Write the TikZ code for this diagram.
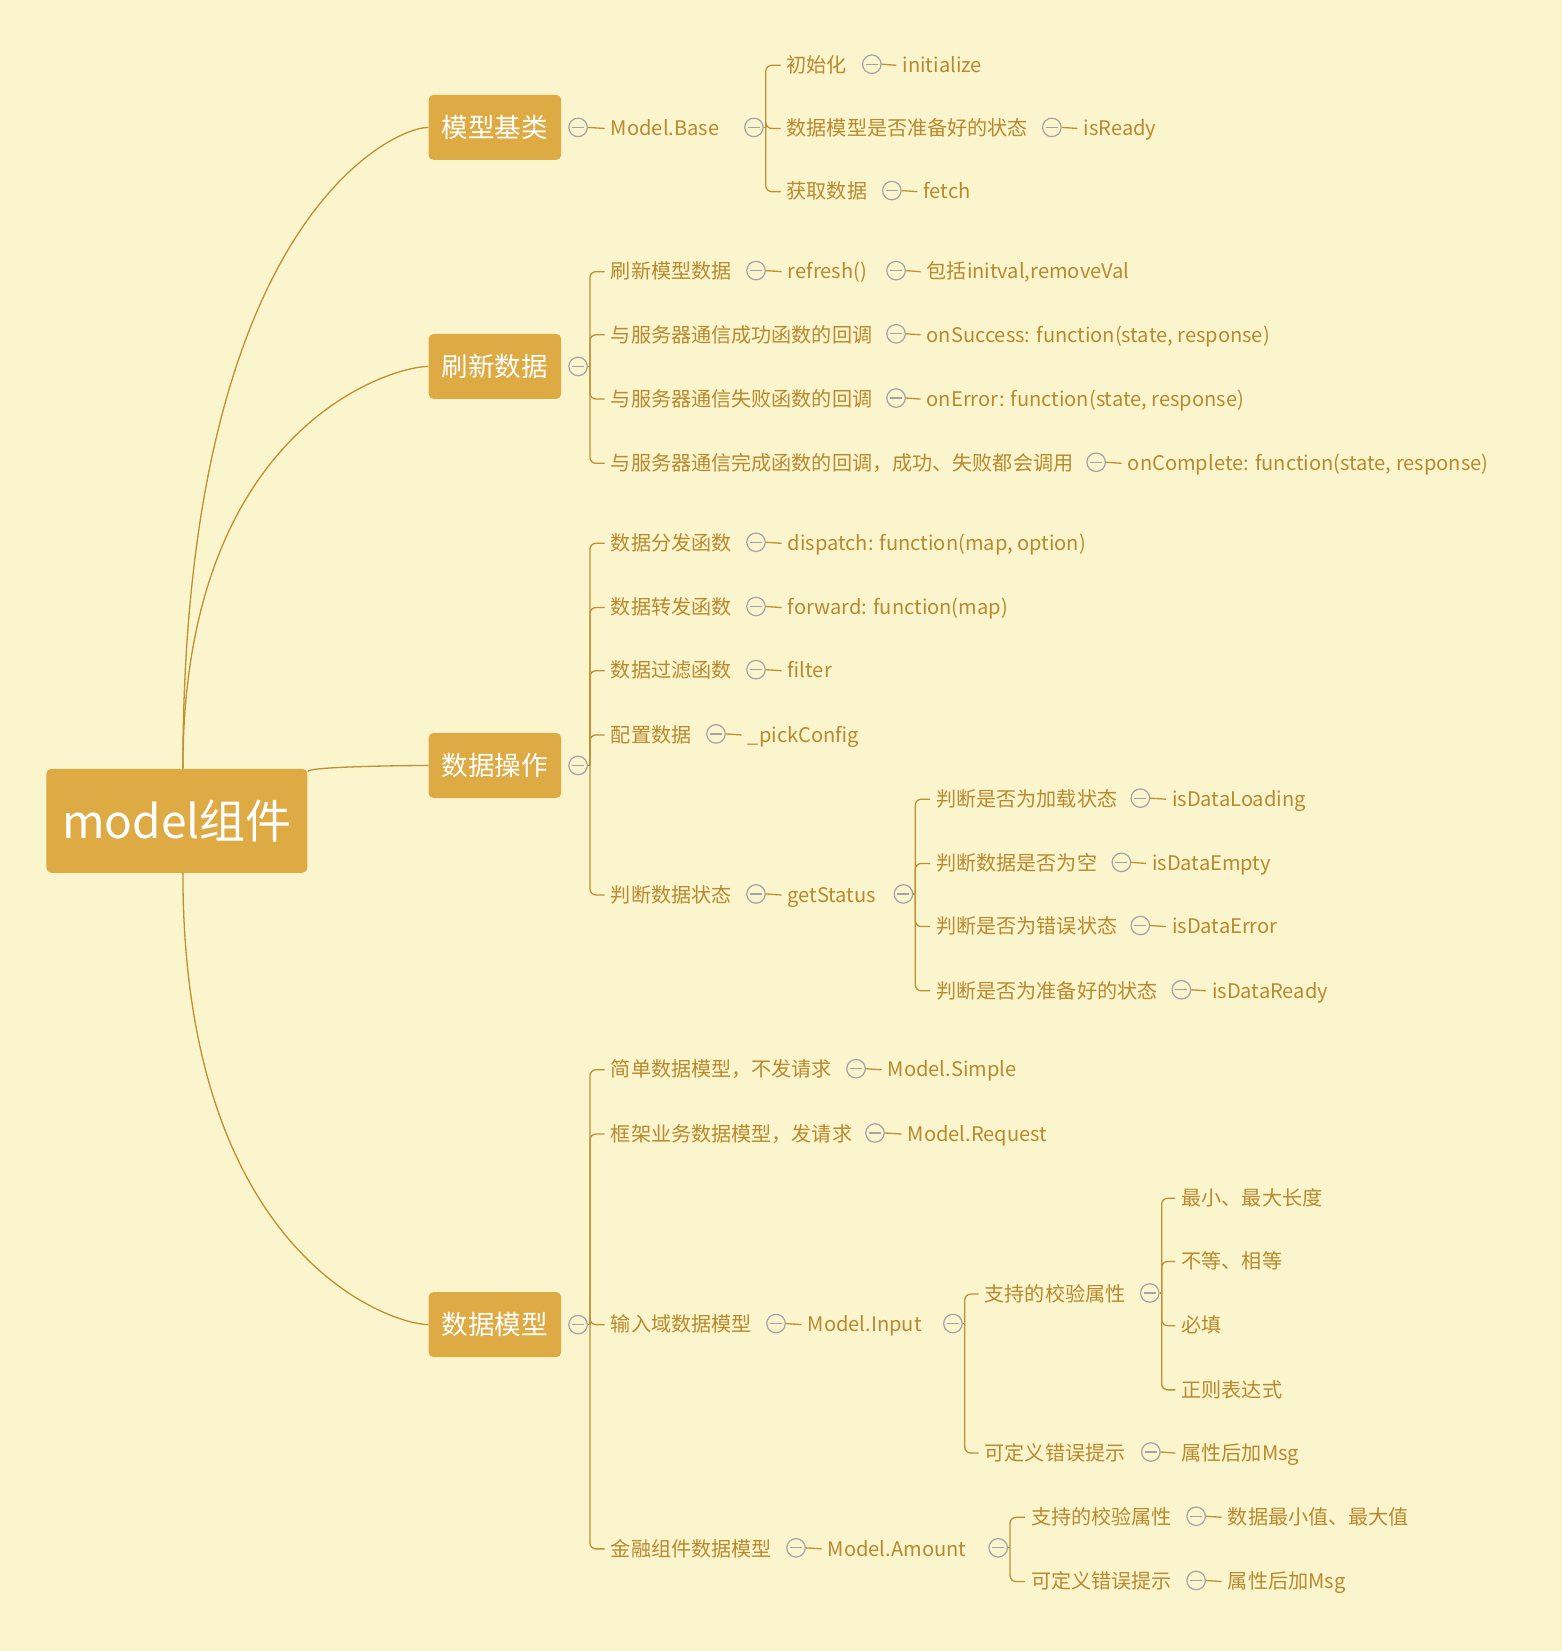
\documentclass[tikz,border=0pt]{standalone}
\usepackage{fontspec}
\setmainfont{Noto Sans CJK SC}
\usetikzlibrary{calc}

\definecolor{paper}{HTML}{FBF5CE}
\definecolor{boxfill}{HTML}{DEAA44}
\definecolor{ink}{HTML}{B9892D}
\definecolor{wire}{HTML}{C0902F}
\definecolor{knobc}{HTML}{A3A3A8}

\tikzset{
  rootbox/.style={fill=boxfill, rounded corners=5pt, text=white,
    font=\fontsize{46}{50}\selectfont, minimum width=261pt, minimum height=104pt, inner sep=0pt},
  topic/.style={fill=boxfill, rounded corners=5pt, text=white,
    font=\fontsize{26.5}{30}\selectfont, minimum width=132.6pt, minimum height=65pt, inner sep=0pt},
  leaf/.style={anchor=west, xshift=-6pt, text=ink, font=\fontsize{20.1}{23}\selectfont,
    inner xsep=6pt, inner ysep=0pt, text height=16.6pt, text depth=2.2pt},
  knob/.style={circle, draw=knobc, line width=1.2pt, fill=paper, minimum size=18.5pt, inner sep=0pt,
    path picture={\draw[knobc, line width=1.2pt]
      ([xshift=-6pt]path picture bounding box.center) -- ([xshift=6pt]path picture bounding box.center);}},
  wire/.style={draw=wire, line width=1.3pt},
  fork/.style={wire, rounded corners=6pt},
  trunk/.style={draw=wire, line width=1.3pt},
}

% a bracket from a toggle knob to each of its children
\newcommand\forkto[2]{%
  \draw[wire] (#1.east) -- ([xshift=2pt]#1.east);
  \foreach \c in {#2} \draw[fork] ([xshift=2pt]#1.east) |- (\c.west);}
% a single dash from a toggle knob to its only child
\newcommand\dashto[2]{\draw[wire] (#1.east) -- (#2.west);}

\begin{document}
\begin{tikzpicture}[x=1.0526pt, y=-1.0526pt]
\fill[paper] (0,0) rectangle (1483,1568);

% central topic and main branches
\node[rootbox] (root) at (168,779.5) {model组件};
\node[topic] (t1) at (470,121) {模型基类};
\node[topic] (t2) at (470,348) {刷新数据};
\node[topic] (t3) at (470,727) {数据操作};
\node[topic] (t4) at (470,1258) {数据模型};

\coordinate (rtop) at ([xshift=6pt]root.north);
\coordinate (rbot) at ([xshift=6pt]root.south);
\coordinate (rside) at ([yshift=-3pt]root.north east);
\foreach \t/\s in {t1/rtop, t2/rtop, t3/rside, t4/rbot}
  \draw[trunk] (\s) .. controls ($(\s)!0.85!(\s |- \t.west)$) and ($(\s |- \t.west)!0.85!(\t.west)$) .. (\t.west);

% ---- 模型基类
\node[knob] (k1) at (549,121) {};
\node[leaf] (base) at (580,122) {Model.Base};
\node[knob] (kbase) at (716,121) {};
\node[leaf] (init) at (747,62) {初始化};
\node[knob] (kinit) at (828,61) {};
\node[leaf] (initialize) at (857,62) {initialize};
\node[leaf] (ready) at (747,122) {数据模型是否准备好的状态};
\node[knob] (kready) at (999,121) {};
\node[leaf] (isready) at (1029,122) {isReady};
\node[leaf] (fetchcn) at (747,182) {获取数据};
\node[knob] (kfetch) at (847,181) {};
\node[leaf] (fetch) at (877,182) {fetch};
\dashto{k1}{base}
\forkto{kbase}{init,ready,fetchcn}
\dashto{kinit}{initialize}
\dashto{kready}{isready}
\dashto{kfetch}{fetch}

% ---- 刷新数据
\node[knob] (k2) at (549,348) {};
\node[leaf] (refcn) at (580,258) {刷新模型数据};
\node[knob] (kref) at (718,257) {};
\node[leaf] (refresh) at (748,258) {refresh()};
\node[knob] (krefresh) at (851,257) {};
\node[leaf] (incl) at (880,258) {包括initval,removeVal};
\node[leaf] (succn) at (580,318) {与服务器通信成功函数的回调};
\node[knob] (ksuc) at (851,317) {};
\node[leaf] (suc) at (880,318) {onSuccess: function(state, response)};
\node[leaf] (errcn) at (580,379) {与服务器通信失败函数的回调};
\node[knob] (kerr) at (851,378) {};
\node[leaf] (err) at (880,379) {onError: function(state, response)};
\node[leaf] (comcn) at (580,440) {与服务器通信完成函数的回调，成功、失败都会调用};
\node[knob] (kcom) at (1041,439) {};
\node[leaf] (com) at (1071,440) {onComplete: function(state, response)};
\forkto{k2}{refcn,succn,errcn,comcn}
\dashto{kref}{refresh}
\dashto{krefresh}{incl}
\dashto{ksuc}{suc}
\dashto{kerr}{err}
\dashto{kcom}{com}

% ---- 数据操作
\node[knob] (k3) at (549,727) {};
\node[leaf] (dispcn) at (580,516) {数据分发函数};
\node[knob] (kdisp) at (718,515) {};
\node[leaf] (disp) at (748,516) {dispatch: function(map, option)};
\node[leaf] (fwdcn) at (580,577) {数据转发函数};
\node[knob] (kfwd) at (718,576) {};
\node[leaf] (fwd) at (748,577) {forward: function(map)};
\node[leaf] (filtcn) at (580,637) {数据过滤函数};
\node[knob] (kfilt) at (718,636) {};
\node[leaf] (filt) at (748,637) {filter};
\node[leaf] (cfgcn) at (580,698) {配置数据};
\node[knob] (kcfg) at (680,697) {};
\node[leaf] (cfg) at (710,698) {\_pickConfig};
\node[leaf] (statcn) at (580,850) {判断数据状态};
\node[knob] (kstat) at (718,849) {};
\node[leaf] (stat) at (748,850) {getStatus};
\node[knob] (kgs) at (858,849) {};
\node[leaf] (loadcn) at (889,759) {判断是否为加载状态};
\node[knob] (kload) at (1083,758) {};
\node[leaf] (load) at (1113,759) {isDataLoading};
\node[leaf] (emptycn) at (889,820) {判断数据是否为空};
\node[knob] (kempty) at (1065,819) {};
\node[leaf] (empty) at (1094,820) {isDataEmpty};
\node[leaf] (errorcn) at (889,880) {判断是否为错误状态};
\node[knob] (kerror) at (1083,879) {};
\node[leaf] (error) at (1113,880) {isDataError};
\node[leaf] (rdycn) at (889,941) {判断是否为准备好的状态};
\node[knob] (krdy) at (1122,940) {};
\node[leaf] (rdy) at (1151,941) {isDataReady};
\forkto{k3}{dispcn,fwdcn,filtcn,cfgcn,statcn}
\dashto{kdisp}{disp}
\dashto{kfwd}{fwd}
\dashto{kfilt}{filt}
\dashto{kcfg}{cfg}
\dashto{kstat}{stat}
\forkto{kgs}{loadcn,emptycn,errorcn,rdycn}
\dashto{kload}{load}
\dashto{kempty}{empty}
\dashto{kerror}{error}
\dashto{krdy}{rdy}

% ---- 数据模型
\node[knob] (k4) at (549,1258) {};
\node[leaf] (simcn) at (580,1016) {简单数据模型，不发请求};
\node[knob] (ksim) at (813,1015) {};
\node[leaf] (sim) at (843,1016) {Model.Simple};
\node[leaf] (reqcn) at (580,1077) {框架业务数据模型，发请求};
\node[knob] (kreq) at (831,1076) {};
\node[leaf] (req) at (862,1077) {Model.Request};
\node[leaf] (inpcn) at (580,1258) {输入域数据模型};
\node[knob] (kinp) at (737,1257) {};
\node[leaf] (inp) at (767,1258) {Model.Input};
\node[knob] (kinput) at (905,1257) {};
\node[leaf] (vcn) at (935,1229) {支持的校验属性};
\node[knob] (kv) at (1092,1228) {};
\node[leaf] (v1) at (1122,1138) {最小、最大长度};
\node[leaf] (v2) at (1122,1198) {不等、相等};
\node[leaf] (v3) at (1122,1259) {必填};
\node[leaf] (v4) at (1122,1320) {正则表达式};
\node[leaf] (mcn) at (935,1380) {可定义错误提示};
\node[knob] (km) at (1093,1379) {};
\node[leaf] (msg) at (1122,1380) {属性后加Msg};
\node[leaf] (amtcn) at (580,1471) {金融组件数据模型};
\node[knob] (kamtcn) at (756,1470) {};
\node[leaf] (amt) at (786,1471) {Model.Amount};
\node[knob] (kamt) at (948,1470) {};
\node[leaf] (avcn) at (979,1441) {支持的校验属性};
\node[knob] (kav) at (1136,1440) {};
\node[leaf] (av) at (1166,1441) {数据最小值、最大值};
\node[leaf] (amcn) at (979,1502) {可定义错误提示};
\node[knob] (kam) at (1136,1501) {};
\node[leaf] (am) at (1166,1502) {属性后加Msg};
\forkto{k4}{simcn,reqcn,inpcn,amtcn}
\dashto{ksim}{sim}
\dashto{kreq}{req}
\dashto{kinp}{inp}
\forkto{kinput}{vcn,mcn}
\forkto{kv}{v1,v2,v3,v4}
\dashto{km}{msg}
\dashto{kamtcn}{amt}
\forkto{kamt}{avcn,amcn}
\dashto{kav}{av}
\dashto{kam}{am}
\end{tikzpicture}
\end{document}
